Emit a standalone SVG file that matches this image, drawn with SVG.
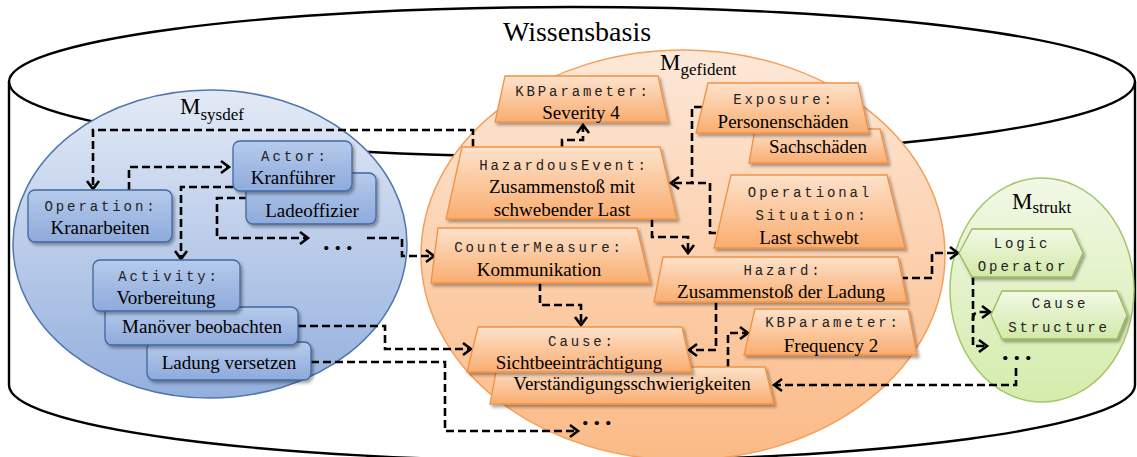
<svg xmlns="http://www.w3.org/2000/svg" width="1137" height="457" viewBox="0 0 1137 457">
  <defs>
    <linearGradient id="gBlueArea" x1="0" y1="0" x2="0" y2="1">
      <stop offset="0" stop-color="#e3eaf6"/>
      <stop offset="1" stop-color="#93afdd"/>
    </linearGradient>
    <linearGradient id="gBlueNode" x1="0" y1="0" x2="0" y2="1">
      <stop offset="0" stop-color="#b6cbec"/>
      <stop offset="1" stop-color="#8eaadb"/>
    </linearGradient>
    <linearGradient id="gOrangeArea" x1="0" y1="0" x2="0" y2="1">
      <stop offset="0" stop-color="#fde8d8"/>
      <stop offset="1" stop-color="#fbba86"/>
    </linearGradient>
    <linearGradient id="gOrangeNode" x1="0" y1="0" x2="0" y2="1">
      <stop offset="0" stop-color="#fde2cb"/>
      <stop offset="1" stop-color="#f9ad70"/>
    </linearGradient>
    <linearGradient id="gGreenArea" x1="0" y1="0" x2="0" y2="1">
      <stop offset="0" stop-color="#f1f8e5"/>
      <stop offset="1" stop-color="#d4ecab"/>
    </linearGradient>
    <linearGradient id="gGreenNode" x1="0" y1="0" x2="0" y2="1">
      <stop offset="0" stop-color="#f2f9e6"/>
      <stop offset="1" stop-color="#d2e9a8"/>
    </linearGradient>
    <filter id="shadow" x="-10%" y="-15%" width="130%" height="150%">
      <feDropShadow dx="2" dy="2.5" stdDeviation="1.5" flood-color="#000" flood-opacity="0.35"/>
    </filter>
    <marker id="arrow" markerUnits="userSpaceOnUse" markerWidth="12" markerHeight="14" refX="8" refY="6" orient="auto" overflow="visible">
      <path d="M0,0 L8,6 L0,12" fill="none" stroke="#000" stroke-width="2.6" stroke-dasharray="none" stroke-linejoin="miter"/>
    </marker>
    <style>
      .title { font-family: "Liberation Serif", serif; font-size: 28px; fill: #000; }
      .mlabel { font-family: "Liberation Serif", serif; font-size: 23px; fill: #000; }
      .sub { font-size: 17px; }
      .mono { font-family: "Liberation Mono", "DejaVu Sans Mono", monospace; font-size: 14px; letter-spacing: 2.9px; fill: #222; text-anchor: middle; }
      .serif { font-family: "Liberation Serif", serif; font-size: 19px; fill: #000; text-anchor: middle; }
      .dots { font-family: "Liberation Serif", serif; font-size: 26px; font-weight: bold; letter-spacing: 5px; fill: #000; }
      .blue { fill: url(#gBlueNode); stroke: #3f68a2; stroke-width: 1.3; filter: url(#shadow); }
      .orange { fill: url(#gOrangeNode); stroke: #f39140; stroke-width: 1.3; filter: url(#shadow); }
      .green { fill: url(#gGreenNode); stroke: #9bbb59; stroke-width: 1.3; filter: url(#shadow); }
      .conn path { fill: none; stroke: #000; stroke-width: 2.6; stroke-dasharray: 8 4; }
      .arr { marker-end: url(#arrow); }
    </style>
  </defs>

  <!-- knowledge base cylinder -->
  <g id="wissensbasis">
    <path d="M9,82 V385 A563,76 0 0 0 1135,385 V82" fill="none" stroke="#000" stroke-width="2.4"/>
    <ellipse cx="572" cy="82" rx="563" ry="75" fill="none" stroke="#000" stroke-width="2.4"/>
    <text class="title" x="577" y="41" text-anchor="middle">Wissensbasis</text>
  </g>

  <!-- model areas -->
  <g id="area-sysdef">
    <ellipse cx="210" cy="244" rx="197" ry="154" fill="url(#gBlueArea)" stroke="#4f76ad" stroke-width="1.5"/>
    <text class="mlabel" x="180" y="114">M<tspan class="sub" dy="6">sysdef</tspan></text>
  </g>
  <g id="area-gefident">
    <ellipse cx="683" cy="255" rx="262" ry="205" fill="url(#gOrangeArea)" stroke="#f5a05a" stroke-width="1.5"/>
    <text class="mlabel" x="660" y="70">M<tspan class="sub" dy="5">gefident</tspan></text>
  </g>
  <g id="area-strukt">
    <ellipse cx="1042" cy="290" rx="92" ry="112" fill="url(#gGreenArea)" stroke="#a4c66a" stroke-width="1.5"/>
    <text class="mlabel" x="1012" y="209">M<tspan class="sub" dy="4">strukt</tspan></text>
  </g>

  <!-- connectors -->
  <g id="connectors" class="conn">
    <path class="arr" d="M473,147 V130 H93 V189"/>
    <path class="arr" d="M129,190 V167 H229"/>
    <path class="arr" d="M233,187 H181 V259"/>
    <path class="arr" d="M247,198 H217 V238 H308"/>
    <path class="arr" d="M367,238 H402 V256 H434"/>
    <path class="arr" d="M298,326 H385 V349 H471"/>
    <path class="arr" d="M311,362 H445 V431 H578"/>
    <path class="arr" d="M540,283 V305 H581 V325"/>
    <path class="arr" d="M716,302 V350 H689"/>
    <path class="arr" d="M728,367 V333 H748"/>
    <path class="arr" d="M1016,368 V385 H774"/>
    <path class="arr" d="M900,278 H932 V253 H958"/>
    <path class="arr" d="M973,277 V346 H987"/>
    <path class="arr" d="M973,320 C973,314 975,312 980,312 H990"/>
    <path class="arr" d="M562,147 V140 H583 V125"/>
    <path class="arr" d="M702,107 H692 V183 H671"/>
    <path d="M716,233 H710 V183 H692"/>
    <path class="arr" d="M652,219 V237 H688 V253"/>
  </g>

  <!-- system definition nodes -->
  <g id="node-operation">
    <rect class="blue" x="28" y="190" width="144" height="52" rx="7"/>
    <text class="mono" x="101" y="211">Operation:</text>
    <text class="serif" x="100" y="234">Kranarbeiten</text>
  </g>
  <g id="node-ladeoffizier">
    <rect class="blue" x="246" y="173" width="130" height="51" rx="7"/>
    <text class="serif" x="312" y="217">Ladeoffizier</text>
  </g>
  <g id="node-actor">
    <rect class="blue" x="233" y="141" width="119" height="50" rx="7"/>
    <text class="mono" x="295" y="161">Actor:</text>
    <text class="serif" x="293" y="184">Kranführer</text>
  </g>
  <g id="node-ladung-versetzen">
    <rect class="blue" x="147" y="342" width="164" height="38" rx="7"/>
    <text class="serif" x="229" y="369">Ladung versetzen</text>
  </g>
  <g id="node-manoever">
    <rect class="blue" x="105" y="307" width="193" height="38" rx="7"/>
    <text class="serif" x="202" y="333">Manöver beobachten</text>
  </g>
  <g id="node-activity">
    <rect class="blue" x="93" y="260" width="147" height="51" rx="7"/>
    <text class="mono" x="169" y="281">Activity:</text>
    <text class="serif" x="166" y="304">Vorbereitung</text>
  </g>
  <g id="dots-sysdef">
    <text class="dots" x="323" y="250">...</text>
  </g>

  <!-- hazard identification nodes -->
  <g id="node-severity">
    <polygon class="orange" points="505,76 658,76 668,122 495,122"/>
    <text class="mono" x="583" y="96">KBParameter:</text>
    <text class="serif" x="581" y="119">Severity 4</text>
  </g>
  <g id="node-hazardous-event">
    <polygon class="orange" points="462,147 660,147 677,219 446,219"/>
    <text class="mono" x="564" y="170">HazardousEvent:</text>
    <text class="serif" x="562" y="193">Zusammenstoß mit</text>
    <text class="serif" x="562" y="216">schwebender Last</text>
  </g>
  <g id="node-countermeasure">
    <polygon class="orange" points="438,228 637,228 650,283 431,283"/>
    <text class="mono" x="539" y="252">CounterMeasure:</text>
    <text class="serif" x="539" y="276">Kommunikation</text>
  </g>
  <g id="node-verstaendigung">
    <polygon class="orange" points="497,367 765,367 774,404 490,404"/>
    <text class="serif" x="632" y="390">Verständigungsschwierigkeiten</text>
  </g>
  <g id="node-cause">
    <polygon class="orange" points="478,327 682,327 692,372 467,372"/>
    <text class="mono" x="582" y="346">Cause:</text>
    <text class="serif" x="579" y="369">Sichtbeeinträchtigung</text>
  </g>
  <g id="node-sachschaeden">
    <polygon class="orange" points="755,129 880,129 888,163 749,163"/>
    <text class="serif" x="818" y="153">Sachschäden</text>
  </g>
  <g id="node-exposure">
    <polygon class="orange" points="708,83 858,83 869,133 696,133"/>
    <text class="mono" x="784" y="104">Exposure:</text>
    <text class="serif" x="783" y="128">Personenschäden</text>
  </g>
  <g id="node-operational-situation">
    <polygon class="orange" points="731,175 887,175 905,248 714,248"/>
    <text class="mono" x="810" y="197">Operational</text>
    <text class="mono" x="812" y="220">Situation:</text>
    <text class="serif" x="809" y="244">Last schwebt</text>
  </g>
  <g id="node-hazard">
    <polygon class="orange" points="663,257 898,257 907,302 654,302"/>
    <text class="mono" x="783" y="275">Hazard:</text>
    <text class="serif" x="781" y="298">Zusammenstoß der Ladung</text>
  </g>
  <g id="node-frequency">
    <polygon class="orange" points="755,309 908,309 917,355 744,355"/>
    <text class="mono" x="833" y="327">KBParameter:</text>
    <text class="serif" x="831" y="352">Frequency 2</text>
  </g>
  <g id="dots-gefident">
    <text class="dots" x="582" y="425">...</text>
  </g>

  <!-- structure nodes -->
  <g id="node-logic-operator">
    <polygon class="green" points="959,253 972,229 1072,229 1083,253 1072,277 972,277"/>
    <text class="mono" x="1022" y="248">Logic</text>
    <text class="mono" x="1023" y="271">Operator</text>
  </g>
  <g id="node-cause-structure">
    <polygon class="green" points="991,315 1002,291 1117,291 1127,315 1117,339 1002,339"/>
    <text class="mono" x="1060" y="308">Cause</text>
    <text class="mono" x="1059" y="332">Structure</text>
  </g>
  <g id="dots-strukt">
    <text class="dots" x="1002" y="360">...</text>
  </g>
</svg>
